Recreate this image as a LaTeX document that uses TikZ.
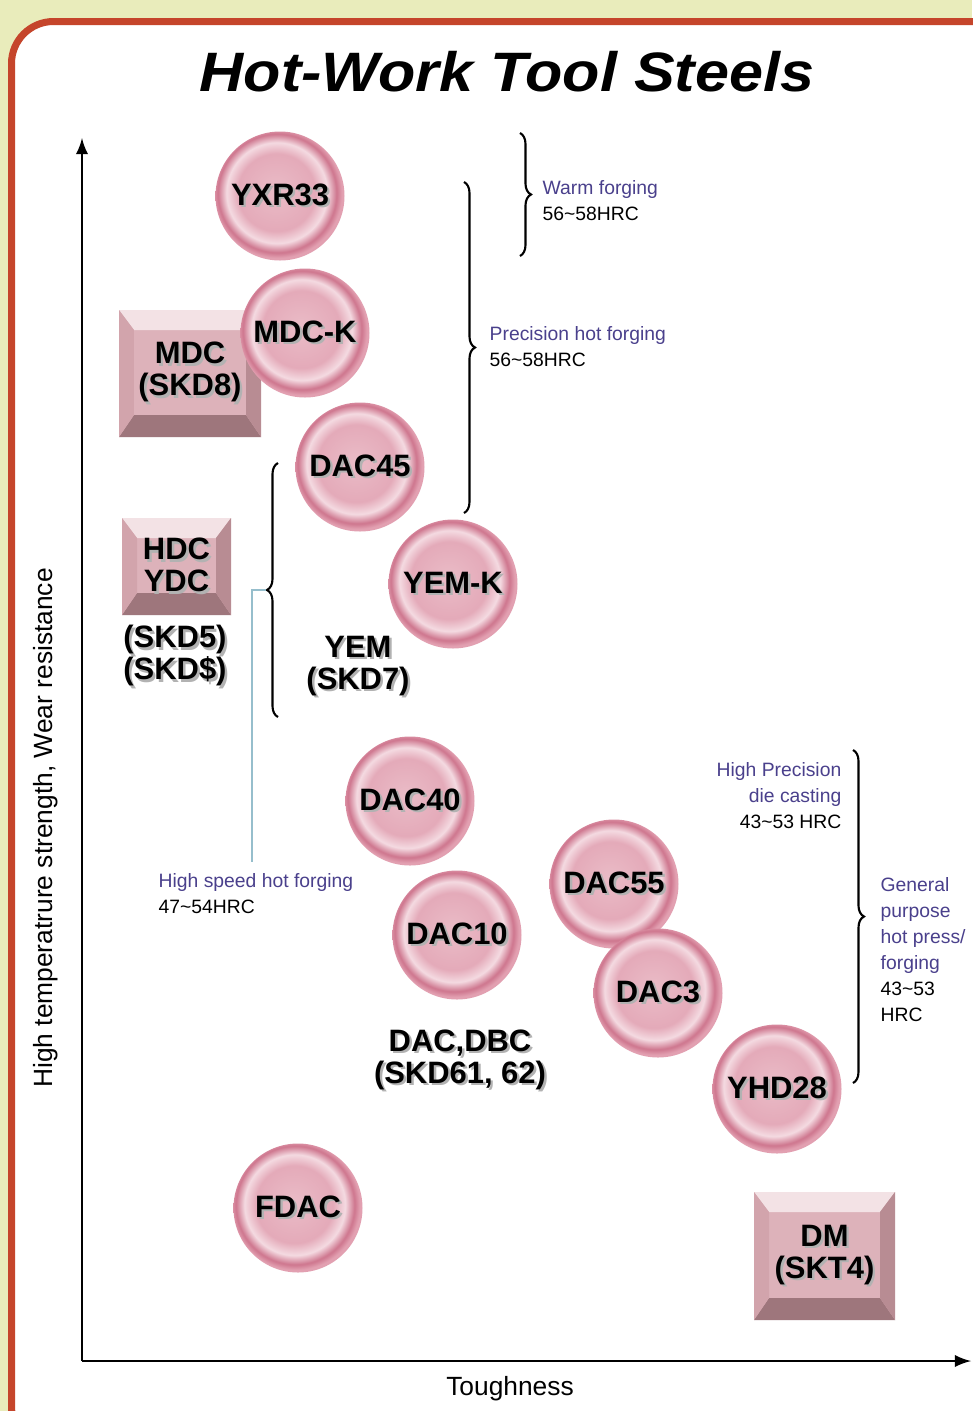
\documentclass[tikz,border=0pt]{standalone}
\usepackage{fontspec}
\setmainfont{Liberation Sans}
\usetikzlibrary{arrows,decorations.pathreplacing}
\definecolor{parchment}{RGB}{233, 236, 187}
\definecolor{rust}{RGB}{197, 69, 43}
\definecolor{indigo}{RGB}{74, 64, 140}
\definecolor{haze}{RGB}{150, 190, 204}
\definecolor{roseC}{RGB}{234, 188, 199}
\definecolor{roseM}{RGB}{228, 170, 185}
\definecolor{roseL}{RGB}{244, 218, 225}
\definecolor{roseD}{RGB}{206, 118, 142}
\definecolor{roseE}{RGB}{226, 160, 177}
\definecolor{boxtop}{RGB}{243, 226, 229}
\definecolor{boxmid}{RGB}{221, 178, 186}
\definecolor{boxleft}{RGB}{210, 164, 172}
\definecolor{boxright}{RGB}{184, 140, 147}
\definecolor{boxbot}{RGB}{158, 118, 124}
\pgfdeclareradialshading{pearl}{\pgfpoint{-2bp}{2bp}}{color(0bp)=(roseC); color(15bp)=(roseM); color(19.5bp)=(roseL); color(23bp)=(roseD); color(25bp)=(roseE); color(50bp)=(roseE)}
\newcommand\tagfont{\fontsize{8.8}{9.1}\selectfont\bfseries}
\newcommand\notefont{\fontsize{5.5}{7.4}\selectfont}
\newcommand\axisfont{\fontsize{7.5}{9}\selectfont}
\newcommand\tld{\char`\~}
% dark copy behind bold grade names
\newcommand\shadowed[1]{\makebox[0pt][l]{\hspace{0.7pt}\raisebox{-0.7pt}{\textcolor{black!30}{#1}}}#1}
\tikzset{
    disc/.style={circle, minimum size=1.29cm, inner sep=0pt, shade, shading=pearl, font=\tagfont},
    bevelbox/.style={rectangle, inner sep=0pt, fill=boxmid, font=\tagfont, align=center,
        path picture={
            \fill[boxtop]   (path picture bounding box.north west) -- (path picture bounding box.north east)
                 -- ([shift={(-0.15,-0.20)}]path picture bounding box.north east) -- ([shift={(0.15,-0.20)}]path picture bounding box.north west) -- cycle;
            \fill[boxbot]   (path picture bounding box.south west) -- (path picture bounding box.south east)
                 -- ([shift={(-0.15,0.22)}]path picture bounding box.south east) -- ([shift={(0.15,0.22)}]path picture bounding box.south west) -- cycle;
            \fill[boxleft]  (path picture bounding box.north west) -- ([shift={(0.15,-0.20)}]path picture bounding box.north west)
                 -- ([shift={(0.15,0.22)}]path picture bounding box.south west) -- (path picture bounding box.south west) -- cycle;
            \fill[boxright] (path picture bounding box.north east) -- ([shift={(-0.15,-0.20)}]path picture bounding box.north east)
                 -- ([shift={(-0.15,0.22)}]path picture bounding box.south east) -- (path picture bounding box.south east) -- cycle;
        }},
    grade/.style={font=\tagfont, align=center, inner sep=0pt},
    note/.style={font=\notefont, inner sep=0pt},
    curly/.style={decorate, decoration={brace, amplitude=0.11cm}, line width=0.6pt},
    axis/.style={-latex, line width=0.6pt},
}
\begin{document}
\begin{tikzpicture}
            \useasboundingbox (0.00, 0.00) rectangle (9.72,-14.11);
            % Background & frame
            \fill[parchment]                                                  (0.00, 0.00) rectangle (9.72,-14.11);
            \draw[rust, line width=0.07cm, fill=white, rounded corners=0.42cm] (0.115,-0.215) rectangle (10.40,-14.48);
            \node (title) at (5.07,-0.72) {\scalebox{1.1}[1]{\fontsize{15.8}{18}\selectfont\bfseries\itshape Hot-Work Tool Steels}};
            % Axes
            \coordinate (origin) at (0.82,-13.61);
            \coordinate (ytop)   at (0.82,-1.38);
            \coordinate (xend)   at (9.71,-13.61);
            \draw[axis] (origin) -- (ytop);
            \draw[axis] (origin) -- (xend);
            \node[font=\axisfont, rotate=90] (ylab) at (0.46,-8.28) {High temperatrure strength, Wear resistance};
            \node[font=\axisfont]            (xlab) at (5.10,-13.89) {Toughness};
            % Square grades
            \node[bevelbox, minimum width=1.42cm, minimum height=1.27cm] (mdc) at (1.90,-3.735) {\shadowed{MDC}\\\shadowed{(SKD8)}};
            \node[bevelbox, minimum width=1.09cm, minimum height=0.97cm] (hdc) at (1.765,-5.665) {\shadowed{HDC}\\\shadowed{YDC}};
            \node[bevelbox, minimum width=1.41cm, minimum height=1.28cm] (dm)  at (8.245,-12.56) {\shadowed{DM}\\\shadowed{(SKT4)}};
            % Round grades
            \node[disc] (yxr33) at (2.80,-1.96)  {\shadowed{YXR33}};
            \node[disc] (mdck)  at (3.05,-3.33)  {\shadowed{MDC-K}};
            \node[disc] (dac45) at (3.60,-4.67)  {\shadowed{DAC45}};
            \node[disc] (yemk)  at (4.53,-5.84)  {\shadowed{YEM-K}};
            \node[disc] (dac40) at (4.10,-8.01)  {\shadowed{DAC40}};
            \node[disc] (dac10) at (4.57,-9.35)  {\shadowed{DAC10}};
            \node[disc] (dac55) at (6.14,-8.84)  {\shadowed{DAC55}};
            \node[disc] (dac3)  at (6.58,-9.93)  {\shadowed{DAC3}};
            \node[disc] (yhd28) at (7.77,-10.89) {\shadowed{YHD28}};
            \node[disc] (fdac)  at (2.98,-12.08) {\shadowed{FDAC}};
            % Plain grades
            \node[grade] (skd5)   at (1.75,-6.57)  {\shadowed{(SKD5)}\\\shadowed{(SKD\$)}};
            \node[grade] (yem)    at (3.58,-6.67)  {\shadowed{YEM}\\\shadowed{(SKD7)}};
            \node[grade] (dacdbc) at (4.60,-10.61) {\shadowed{DAC,DBC}\\\shadowed{(SKD61, 62)}};
            % Braces
            \coordinate (warmtop) at (5.20,-1.33);  \coordinate (warmbot) at (5.20,-2.56);
            \coordinate (prectop) at (4.64,-1.82);  \coordinate (precbot) at (4.64,-5.13);
            \coordinate (hstop)   at (2.78,-4.63);  \coordinate (hsbot)   at (2.78,-7.17);
            \coordinate (dietop)  at (8.53,-7.50);  \coordinate (diebot)  at (8.53,-10.83);
            \draw[curly] (warmtop) -- (warmbot);
            \draw[curly] (prectop) -- (precbot);
            \draw[curly] (hsbot)   -- (hstop);
            \draw[curly] (dietop)  -- (diebot);
            % Uses
            \node[note, anchor=north west, align=left]  (warm) at (5.42,-1.80)
                 {\textcolor{indigo}{Warm forging}\\56\tld58HRC};
            \node[note, anchor=north west, align=left]  (prec) at (4.89,-3.26)
                 {\textcolor{indigo}{Precision hot forging}\\56\tld58HRC};
            \node[note, anchor=north west, align=left]  (hsf)  at (1.58,-8.73)
                 {\textcolor{indigo}{High speed hot forging}\\47\tld54HRC};
            \node[note, anchor=north east, align=right] (hpdc) at (8.42,-7.62)
                 {\textcolor{indigo}{High Precision}\\\textcolor{indigo}{die casting}\\43\tld53 HRC};
            \node[note, anchor=north west, align=left]  (gen)  at (8.80,-8.77)
                 {\textcolor{indigo}{General}\\\textcolor{indigo}{purpose}\\\textcolor{indigo}{hot press/}\\\textcolor{indigo}{forging}\\43\tld53\\HRC};
            % Leader to high speed label
            \coordinate (hstip)  at (2.66,-5.90);
            \coordinate (hsfoot) at (2.52,-8.62);
            \draw[haze, line width=0.4pt] (hstip) -| (hsfoot);
        \end{tikzpicture}
\end{document}
